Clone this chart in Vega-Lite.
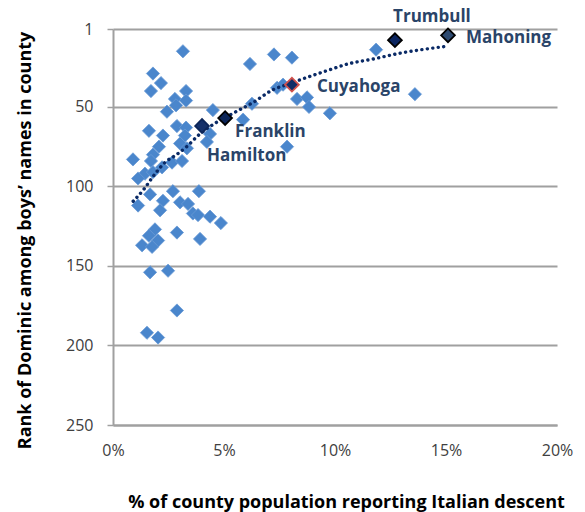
{
  "$schema": "https://vega.github.io/schema/vega-lite/v6.json",
  "autosize": "none",
  "width": 444,
  "height": 396,
  "padding": {"left": 113, "top": 29, "right": 28, "bottom": 87},
  "background": "white",
  "config": {
    "view": {"stroke": null},
    "font": "Open Sans"
  },
  "datasets": {
    "counties": [
      {"p":0.0315,"r":15},{"p":0.0180,"r":29},{"p":0.0216,"r":35},{"p":0.0171,"r":40},{"p":0.0329,"r":40},
      {"p":0.0279,"r":45},{"p":0.0329,"r":46},{"p":0.0284,"r":49},{"p":0.0243,"r":53},{"p":0.0450,"r":52},
      {"p":0.0617,"r":23},{"p":0.0725,"r":17},{"p":0.0806,"r":19},{"p":0.0739,"r":38},{"p":0.0766,"r":36},
      {"p":0.0829,"r":45},{"p":0.0874,"r":44},{"p":0.0883,"r":50},{"p":0.0977,"r":54},{"p":0.1185,"r":14},
      {"p":0.1360,"r":42},{"p":0.0626,"r":48},{"p":0.0586,"r":58},{"p":0.0437,"r":67},{"p":0.0423,"r":72},
      {"p":0.0784,"r":75},{"p":0.0162,"r":65},{"p":0.0225,"r":68},{"p":0.0288,"r":62},{"p":0.0329,"r":63},
      {"p":0.0324,"r":68},{"p":0.0302,"r":73},{"p":0.0333,"r":76},{"p":0.0207,"r":75},{"p":0.0180,"r":80},
      {"p":0.0090,"r":83},{"p":0.0171,"r":84},{"p":0.0221,"r":88},{"p":0.0266,"r":85},{"p":0.0311,"r":84},
      {"p":0.0144,"r":92},{"p":0.0113,"r":95},{"p":0.0180,"r":91},{"p":0.0167,"r":105},{"p":0.0113,"r":112},
      {"p":0.0270,"r":103},{"p":0.0387,"r":103},{"p":0.0225,"r":109},{"p":0.0212,"r":115},{"p":0.0302,"r":110},
      {"p":0.0338,"r":111},{"p":0.0360,"r":117},{"p":0.0383,"r":118},{"p":0.0437,"r":119},{"p":0.0486,"r":123},
      {"p":0.0288,"r":129},{"p":0.0392,"r":133},{"p":0.0189,"r":127},{"p":0.0162,"r":131},{"p":0.0203,"r":134},
      {"p":0.0131,"r":137},{"p":0.0176,"r":138},{"p":0.0167,"r":154},{"p":0.0248,"r":153},{"p":0.0288,"r":178},
      {"p":0.0153,"r":192},{"p":0.0203,"r":195}
    ],
    "named": [
      {"name":"Trumbull","p":0.1270,"r":8},
      {"name":"Mahoning","p":0.1509,"r":5},
      {"name":"Cuyahoga","p":0.0806,"r":36},
      {"name":"Franklin","p":0.0505,"r":57},
      {"name":"Hamilton","p":0.0401,"r":62}
    ],
    "trend": [
      {"p":0.0091,"r":109.3},{"p":0.0140,"r":101.6},{"p":0.0185,"r":92.9},{"p":0.0234,"r":84.9},
      {"p":0.0284,"r":80.2},{"p":0.0335,"r":74.6},{"p":0.0384,"r":67.9},{"p":0.0464,"r":59.9},
      {"p":0.0550,"r":53.3},{"p":0.0632,"r":47.1},{"p":0.0722,"r":39.1},{"p":0.0782,"r":36},
      {"p":0.0887,"r":30.8},{"p":0.0977,"r":26.6},{"p":0.1060,"r":22.9},{"p":0.1171,"r":19.9},
      {"p":0.1293,"r":16.2},{"p":0.1405,"r":13.7},{"p":0.1491,"r":12.1}
    ]
  },
  "encoding": {
    "x": {
      "field": "p", "type": "quantitative",
      "scale": {"domain": [0, 0.2], "nice": false, "zero": false},
      "axis": {
        "values": [0, 0.05, 0.1, 0.15, 0.2], "format": ".0%",
        "title": "% of county population reporting Italian descent",
        "grid": false, "ticks": false, "labelFlush": false,
        "domainColor": "#A0A0A0", "domainWidth": 2,
        "labelFontSize": 16, "labelColor": "#404040", "labelPadding": 17,
        "titleFontSize": 18, "titleFontWeight": "bold", "titleColor": "#000000",
        "titleX": 233, "titleY": 77, "titleBaseline": "middle"
      }
    },
    "y": {
      "field": "r", "type": "quantitative",
      "scale": {"domain": [1, 250], "reverse": true, "nice": false, "zero": false},
      "axis": {
        "values": [1, 50, 100, 150, 200, 250],
        "title": "Rank of Dominic among boys\u2019 names in county",
        "grid": true, "gridColor": "#A0A0A0", "gridWidth": 2, "labelFlush": false,
        "domainColor": "#A0A0A0", "domainWidth": 2,
        "tickColor": "#A0A0A0", "tickSize": 6, "tickWidth": 1.5,
        "labelFontSize": 16, "labelColor": "#404040", "labelPadding": 14,
        "titleFontSize": 18, "titleFontWeight": "bold", "titleColor": "#000000",
        "titleX": -88, "titleY": 211, "titleAngle": -90, "titleBaseline": "middle", "titleAlign": "center"
      }
    }
  },
  "layer": [
    {
      "data": {"name": "counties"},
      "mark": {"type": "point", "shape": "diamond", "filled": true, "size": 175, "fill": "#4A86CC", "fillOpacity": 1, "stroke": "#6A9AD6", "strokeWidth": 0.8}
    },
    {
      "data": {"name": "trend"},
      "mark": {"type": "line", "interpolate": "monotone", "color": "#0A2A66", "strokeWidth": 3.4, "strokeDash": [0.1, 5.4], "strokeCap": "round"}
    },
    {
      "data": {"name": "named"},
      "mark": {"type": "point", "shape": "diamond", "filled": true, "size": 190, "fillOpacity": 1, "strokeWidth": 1.8},
      "encoding": {
        "fill": {"field": "name", "type": "nominal", "legend": null,
          "scale": {"domain": ["Trumbull","Mahoning","Cuyahoga","Franklin","Hamilton"], "range": ["#0B2560","#2D4A70","#0F2C66","#0C2558","#14306A"]}},
        "stroke": {"field": "name", "type": "nominal", "legend": null,
          "scale": {"domain": ["Trumbull","Mahoning","Cuyahoga","Franklin","Hamilton"], "range": ["#000000","#000000","#D0504C","#000000","#0C2558"]}}
      }
    },
    {
      "data": {"name": "named"},
      "transform": [{"filter": "datum.name === 'Trumbull'"}],
      "mark": {"type": "text", "font": "Open Sans", "fontWeight": "bold", "fontSize": 17, "color": "#2A4468", "align": "center", "baseline": "middle", "dx": 37, "dy": -23},
      "encoding": {"text": {"field": "name"}}
    },
    {
      "data": {"name": "named"},
      "transform": [{"filter": "datum.name === 'Mahoning'"}],
      "mark": {"type": "text", "font": "Open Sans", "fontWeight": "bold", "fontSize": 17, "color": "#2A4468", "align": "left", "baseline": "middle", "dx": 18, "dy": 3},
      "encoding": {"text": {"field": "name"}}
    },
    {
      "data": {"name": "named"},
      "transform": [{"filter": "datum.name === 'Cuyahoga'"}],
      "mark": {"type": "text", "font": "Open Sans", "fontWeight": "bold", "fontSize": 17, "color": "#2A4468", "align": "left", "baseline": "middle", "dx": 25, "dy": 2},
      "encoding": {"text": {"field": "name"}}
    },
    {
      "data": {"name": "named"},
      "transform": [{"filter": "datum.name === 'Franklin'"}],
      "mark": {"type": "text", "font": "Open Sans", "fontWeight": "bold", "fontSize": 17, "color": "#2A4468", "align": "left", "baseline": "middle", "dx": 10, "dy": 14},
      "encoding": {"text": {"field": "name"}}
    },
    {
      "data": {"name": "named"},
      "transform": [{"filter": "datum.name === 'Hamilton'"}],
      "mark": {"type": "text", "font": "Open Sans", "fontWeight": "bold", "fontSize": 17, "color": "#2A4468", "align": "left", "baseline": "middle", "dx": 5, "dy": 30},
      "encoding": {"text": {"field": "name"}}
    }
  ]
}
